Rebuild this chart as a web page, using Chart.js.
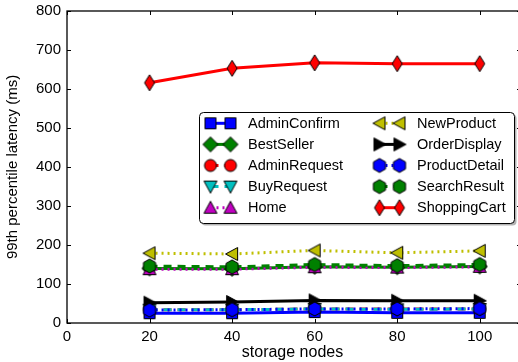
<!DOCTYPE html>
<html><head><meta charset="utf-8">
<script src="https://cdn.jsdelivr.net/npm/chart.js@4/dist/chart.umd.min.js"></script>
<style>html,body{margin:0;padding:0;overflow:hidden;background:#fff}#wrap{width:518px;height:362px}</style>
</head><body><div id="wrap"><canvas id="c" width="518" height="362"></canvas></div>
<script>
// ---- data ----
const nodes = [20, 40, 60, 80, 100];
const xTickValues = [0, 20, 40, 60, 80, 100];
const yTickValues = [0, 100, 200, 300, 400, 500, 600, 700, 800];
const seriesNames = ["AdminConfirm","BestSeller","AdminRequest","BuyRequest","Home","NewProduct","OrderDisplay","ProductDetail","SearchResult","ShoppingCart"];
const adminConfirm  = [25, 25, 28, 26, 26];
const bestSeller    = [140, 139, 144, 143, 145];
const adminRequest  = [34, 34, 36, 36, 36];
const buyRequest    = [34, 34, 36, 35, 36];
const home          = [138, 138, 143, 142, 144];
const newProduct    = [179, 177, 186, 180, 185];
const orderDisplay  = [52, 54, 58, 57, 57];
const productDetail = [33, 34, 36, 36, 37];
const searchResult  = [146, 144, 150, 147, 150];
const shoppingCart  = [616, 653, 667, 665, 665];
const seriesValues = [adminConfirm, bestSeller, adminRequest, buyRequest, home, newProduct, orderDisplay, productDetail, searchResult, shoppingCart];

// axis limits: the full axis runs 0..110 but the picture is cropped just before the right spine
const X_FULL_MAX = 110;
const X_VISIBLE_MAX = 109.27;

// ---- styles ----
const colors = ["#0000ff","#008000","#ff0000","#00bfbf","#bf00bf","#bfbf00","#000000","#0000ff","#008000","#ff0000"];
const markers = ["square","diamond","circle","tridown","triup","trileft","triright","hexagon","hexagon","thindiamond"];
const DASHED = [8, 6], DOTTED = [2, 4];
const dashes = [[], [], DASHED, DASHED, DOTTED, DOTTED, [], DOTTED, DASHED, []];
const FONT = "'Liberation Sans', Arial, sans-serif";

function makeMarker(shape, fill) {
  const S = 20, c = document.createElement('canvas');
  c.width = S; c.height = S;
  const g = c.getContext('2d');
  const cx = S/2, cy = S/2;
  g.beginPath();
  if (shape === 'square') { g.rect(cx-5.5, cy-5.5, 11, 11); }
  else if (shape === 'circle') { g.arc(cx, cy, 6, 0, Math.PI*2); }
  else if (shape === 'diamond') { g.moveTo(cx, cy-7.5); g.lineTo(cx+7.5, cy); g.lineTo(cx, cy+7.5); g.lineTo(cx-7.5, cy); g.closePath(); }
  else if (shape === 'thindiamond') { g.moveTo(cx, cy-8); g.lineTo(cx+5, cy); g.lineTo(cx, cy+8); g.lineTo(cx-5, cy); g.closePath(); }
  else if (shape === 'hexagon') { for (let i=0;i<6;i++){ const a = -Math.PI/2 + i*Math.PI/3; const px = cx+7*Math.cos(a), py = cy+7*Math.sin(a); if(i===0) g.moveTo(px,py); else g.lineTo(px,py);} g.closePath(); }
  else {
    const r = 6.5;
    let pts;
    if (shape === 'triup') pts = [[0,-r],[r,r*0.85],[-r,r*0.85]];
    else if (shape === 'tridown') pts = [[0,r],[r,-r*0.85],[-r,-r*0.85]];
    else if (shape === 'trileft') pts = [[-r,0],[r*0.85,-r],[r*0.85,r]];
    else pts = [[r,0],[-r*0.85,-r],[-r*0.85,r]];
    g.moveTo(cx+pts[0][0], cy+pts[0][1]); g.lineTo(cx+pts[1][0], cy+pts[1][1]); g.lineTo(cx+pts[2][0], cy+pts[2][1]); g.closePath();
  }
  g.fillStyle = fill; g.fill();
  g.lineWidth = 1; g.strokeStyle = '#000'; g.stroke();
  return c;
}
const markerImgs = markers.map((m, i) => makeMarker(m, colors[i]));

const N = seriesNames.length;
const datasets = seriesNames.map((name, i) => ({
  label: name,
  data: nodes.map((x, j) => ({x: x, y: seriesValues[i][j]})),
  borderColor: colors[i],
  backgroundColor: colors[i],
  borderWidth: 3,
  borderDash: dashes[i],
  pointStyle: markerImgs[i],
  pointRadius: 7,
  tension: 0,
  fill: false,
  clip: false,
  order: N - i
}));

const framePlugin = {
  id: 'frame',
  afterDraw(chart) {
    const {ctx, chartArea: a, scales} = chart;
    const right = scales.x.getPixelForValue(X_FULL_MAX);
    ctx.save();
    ctx.strokeStyle = '#000'; ctx.lineWidth = 1.3; ctx.setLineDash([]);
    ctx.strokeRect(a.left, a.top, right - a.left, a.bottom - a.top);
    ctx.lineWidth = 1;
    const L = 4;
    ctx.beginPath();
    xTickValues.forEach(v => { const px = Math.round(scales.x.getPixelForValue(v)) + 0.5; ctx.moveTo(px, a.bottom); ctx.lineTo(px, a.bottom - L); ctx.moveTo(px, a.top); ctx.lineTo(px, a.top + L); });
    yTickValues.forEach(v => { const py = Math.round(scales.y.getPixelForValue(v)) + 0.5; ctx.moveTo(a.left, py); ctx.lineTo(a.left + L, py); ctx.moveTo(right, py); ctx.lineTo(right - L, py); });
    ctx.stroke();

    // legend box
    const bx = 199, by = 112, bw = 315, bh = 111, rr = 4;
    function rrect(x, y, w, h) { ctx.beginPath(); ctx.moveTo(x+rr, y); ctx.lineTo(x+w-rr, y); ctx.arcTo(x+w, y, x+w, y+rr, rr); ctx.lineTo(x+w, y+h-rr); ctx.arcTo(x+w, y+h, x+w-rr, y+h, rr); ctx.lineTo(x+rr, y+h); ctx.arcTo(x, y+h, x, y+h-rr, rr); ctx.lineTo(x, y+rr); ctx.arcTo(x, y, x+rr, y, rr); ctx.closePath(); }
    rrect(bx+2.5, by+2.5, bw, bh); ctx.fillStyle = '#b3b3b3'; ctx.fill();
    rrect(bx+0.5, by+0.5, bw, bh); ctx.fillStyle = '#fff'; ctx.fill(); ctx.strokeStyle = '#000'; ctx.lineWidth = 1; ctx.stroke();
    ctx.font = '14.5px ' + FONT; ctx.textBaseline = 'middle'; ctx.textAlign = 'left'; ctx.fillStyle = '#000';
    seriesNames.forEach((name, i) => {
      const col = i < 5 ? 0 : 1, row = i % 5;
      const m1 = col === 0 ? 210.5 : 379.5, m2 = m1 + 20, tx = col === 0 ? 248 : 417;
      const y = 123.3 + row * 21.1;
      ctx.save();
      ctx.beginPath(); ctx.strokeStyle = colors[i]; ctx.lineWidth = 3; ctx.setLineDash(dashes[i]);
      ctx.moveTo(m1, y); ctx.lineTo(m2, y); ctx.stroke();
      ctx.restore();
      const im = markerImgs[i];
      ctx.drawImage(im, m1 - im.width/2, y - im.height/2);
      ctx.drawImage(im, m2 - im.width/2, y - im.height/2);
      ctx.fillStyle = '#000';
      ctx.fillText(name, tx, y + 0.5);
    });
    ctx.restore();
  }
};

new Chart(document.getElementById('c'), {
  type: 'line',
  data: { datasets: datasets },
  options: {
    responsive: false, animation: false, devicePixelRatio: 1, events: [],
    layout: { autoPadding: false, padding: { top: 11, right: 0, left: 0, bottom: 0 } },
    plugins: { legend: { display: false }, tooltip: { enabled: false } },
    scales: {
      x: {
        type: 'linear', min: 0, max: X_VISIBLE_MAX,
        afterFit(s) { s.height = 39; s.paddingRight = 0; s.paddingLeft = 0; },
        grid: { display: false, drawTicks: false }, border: { display: false },
        ticks: { stepSize: 20, includeBounds: false, padding: 5, color: '#000', font: { family: FONT, size: 15 } },
        title: { display: true, text: 'storage nodes', color: '#000', font: { family: FONT, size: 16 }, padding: { top: 0, bottom: 0 } }
      },
      y: {
        type: 'linear', min: 0, max: 800,
        afterFit(s) { s.width = 67; s.paddingTop = 0; s.paddingBottom = 0; },
        grid: { display: false, drawTicks: false }, border: { display: false },
        ticks: { stepSize: 100, padding: 6, color: '#000', font: { family: FONT, size: 15 } },
        title: { display: true, text: '99th percentile latency (ms)', color: '#000', font: { family: FONT, size: 15 }, padding: { top: 4, bottom: 0 } }
      }
    }
  },
  plugins: [framePlugin]
});
</script></body></html>
